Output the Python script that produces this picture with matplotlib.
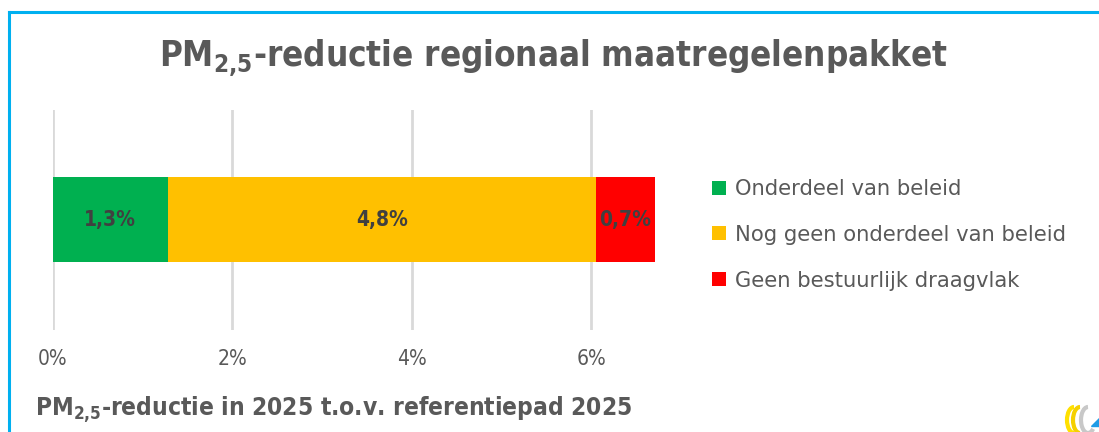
import matplotlib
matplotlib.use("Agg")
import matplotlib.pyplot as plt
from matplotlib.lines import Line2D
from matplotlib.patches import Patch, Arc, Polygon

categories = ["Onderdeel van beleid", "Nog geen onderdeel van beleid", "Geen bestuurlijk draagvlak"]
values = [1.29, 4.76, 0.66]
value_labels = ["1,3%", "4,8%", "0,7%"]
colors = ["#00B050", "#FFC000", "#FF0000"]
ticks = [0, 2, 4, 6]
tick_labels = ["0%", "2%", "4%", "6%"]

plt.rcParams['mathtext.fontset'] = 'custom'
plt.rcParams['mathtext.rm'] = 'DejaVu Sans:stretch=condensed'
plt.rcParams['mathtext.bf'] = 'DejaVu Sans:weight=bold:stretch=condensed'

W, H = 1099, 432
fig = plt.figure(figsize=(W / 100, H / 100), dpi=100)
fig.patch.set_facecolor("white")

grey = "#595959"
cond = dict(family="DejaVu Sans", stretch="condensed")

ax = fig.add_axes([52.5 / W, 1 - 330 / H, (681 - 52.5) / W, 220 / H])
left = 0
for v, lab, c in zip(values, value_labels, colors):
    ax.barh(0, v, left=left, height=85 / 220, color=c, zorder=3)
    ax.text(left + v / 2, 0, lab, ha="center", va="center", fontsize=15,
            fontweight="bold", color="#404040", zorder=4, **cond)
    left += v
ax.set_xlim(0, 7)
ax.set_ylim(-0.5, 0.5)
ax.set_xticks(ticks)
ax.set_xticklabels(tick_labels, fontsize=15, color=grey, **cond)
ax.set_yticks([])
ax.tick_params(axis="x", length=0, pad=14)
ax.grid(axis="x", color="#D9D9D9", linewidth=2, zorder=0)
for s in ax.spines.values():
    s.set_visible(False)

# legend
handles = [Patch(facecolor=c, edgecolor="none") for c in colors]
fig.legend(handles, categories, loc="upper left", bbox_to_anchor=(693 / W, 1 - 160 / H),
           frameon=False, labelcolor=grey, handlelength=0.65, handleheight=0.65,
           handletextpad=0.45, labelspacing=1.22,
           prop=dict(family="DejaVu Sans", size=15.2))

# title
fig.text(553 / W, 1 - 58 / H, r"PM$_{\mathbf{2{,}5}}$-reductie regionaal maatregelenpakket",
         ha="center", va="center", fontsize=25, fontweight="bold", color=grey, **cond)

# bottom axis title
fig.text(35 / W, 1 - 410 / H, r"PM$_{\mathbf{2{,}5}}$-reductie in 2025 t.o.v. referentiepad 2025",
         ha="left", va="center", fontsize=17.6, fontweight="bold", color=grey, **cond)

# border lines
fig.add_artist(Line2D([9 / W, 1], [1 - 12 / H, 1 - 12 / H], color="#00B0F0", linewidth=2.2,
                      transform=fig.transFigure))
fig.add_artist(Line2D([9 / W, 9 / W], [0, 1 - 12 / H], color="#00B0F0", linewidth=2.2,
                      transform=fig.transFigure))

# small logo in bottom-right corner
lax = fig.add_axes([1060 / W, 0, 39 / W, 36 / H])
lax.set_xlim(0, 39)
lax.set_ylim(0, 36)
lax.axis("off")
lax.add_patch(Arc((14, 12), 14, 26, theta1=90, theta2=270, color="#FFE000", linewidth=3))
lax.add_patch(Arc((20, 12), 14, 26, theta1=90, theta2=270, color="#F5D000", linewidth=3))
lax.add_patch(Arc((28, 12), 14, 26, theta1=90, theta2=300, color="#C8C8C8", linewidth=3))
lax.add_patch(Polygon([[31, 6], [39, 6], [39, 14]], color="#1E9BE6"))

fig.savefig("out.png", dpi=100, facecolor="white")
